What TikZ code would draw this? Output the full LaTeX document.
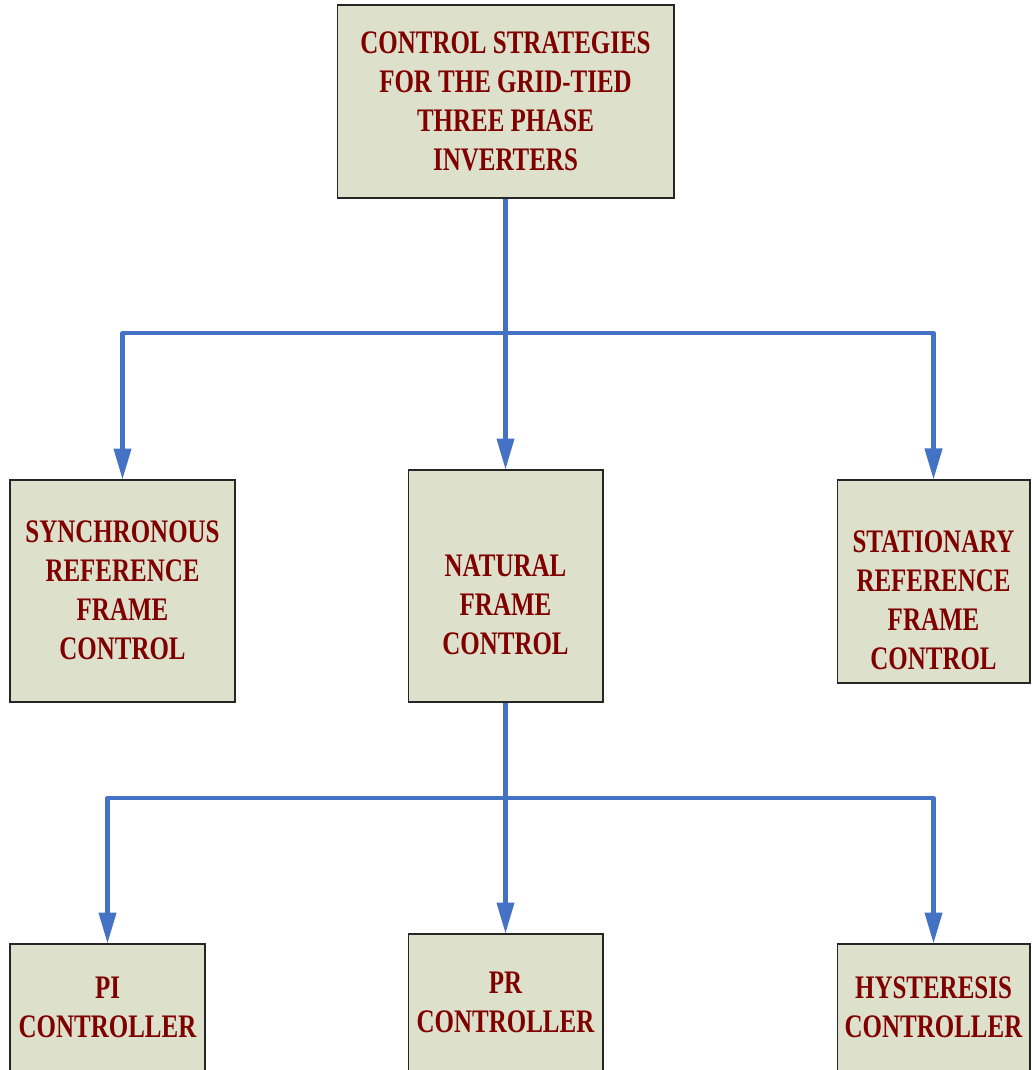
\documentclass[tikz,border=0pt]{standalone}
\usepackage{fontspec}
\newfontfamily\narrowserif{Liberation Serif}[FakeStretch=0.76]
\usetikzlibrary{arrows.meta}
\definecolor{boxfill}{RGB}{221,225,204}
\definecolor{boxtext}{RGB}{128,0,0}
\definecolor{flowblue}{RGB}{68,114,196}
\begin{document}
\begin{tikzpicture}[x=0.02cm,y=-0.02cm,
  blk/.style={draw=black!85,line width=0.6pt,fill=boxfill,inner sep=0pt},
  lbl/.style={text=boxtext,align=center,inner sep=0pt,
    font=\narrowserif\bfseries\fontsize{18.7}{22.2}\selectfont},
  flow/.style={draw=flowblue,line width=2.3pt,line join=round,
    -{Triangle[length=0.62cm,width=0.34cm]}}]
\useasboundingbox (0,0) rectangle (1031,1070);
\clip (0,0) rectangle (1031,1070);

\node[blk,minimum width=6.74cm,minimum height=3.86cm] (top) at (505.5,101.5) {};
\node[blk,minimum width=4.5cm,minimum height=4.44cm] (sync) at (122.5,591) {};
\node[blk,minimum width=3.9cm,minimum height=4.64cm] (nat) at (505.5,586) {};
\node[blk,minimum width=3.86cm,minimum height=4.06cm] (stat) at (933.5,581.5) {};
\node[blk,minimum width=3.9cm,minimum height=3.04cm] (pi) at (107.5,1020) {};
\node[blk,minimum width=3.9cm,minimum height=3.24cm] (pr) at (505.5,1015) {};
\node[blk,minimum width=3.86cm,minimum height=3.04cm] (hys) at (933.5,1020) {};

\node[lbl] (topT) at (505.5,101) {CONTROL STRATEGIES\\FOR THE GRID-TIED\\THREE PHASE\\INVERTERS};
\node[lbl] (syncT) at (122.5,590) {SYNCHRONOUS\\REFERENCE\\FRAME\\CONTROL};
\node[lbl] (natT) at (505.5,605) {NATURAL\\FRAME\\CONTROL};
\node[lbl] (statT) at (933.5,600) {STATIONARY\\REFERENCE\\FRAME\\CONTROL};
\node[lbl] (piT) at (107.5,1007) {PI\\CONTROLLER};
\node[lbl] (prT) at (505.5,1002.5) {PR\\CONTROLLER};
\node[lbl] (hysT) at (933.5,1007) {HYSTERESIS\\CONTROLLER};

\coordinate (j1) at (505.5,333);
\coordinate (j2) at (505.5,798);

\path[flow] (top.south) -- (nat.north);
\path[flow] (j1) -| (sync.north);
\path[flow] (j1) -| (stat.north);

\path[flow] (nat.south) -- (pr.north);
\path[flow] (j2) -| (pi.north);
\path[flow] (j2) -| (hys.north);
\end{tikzpicture}
\end{document}
